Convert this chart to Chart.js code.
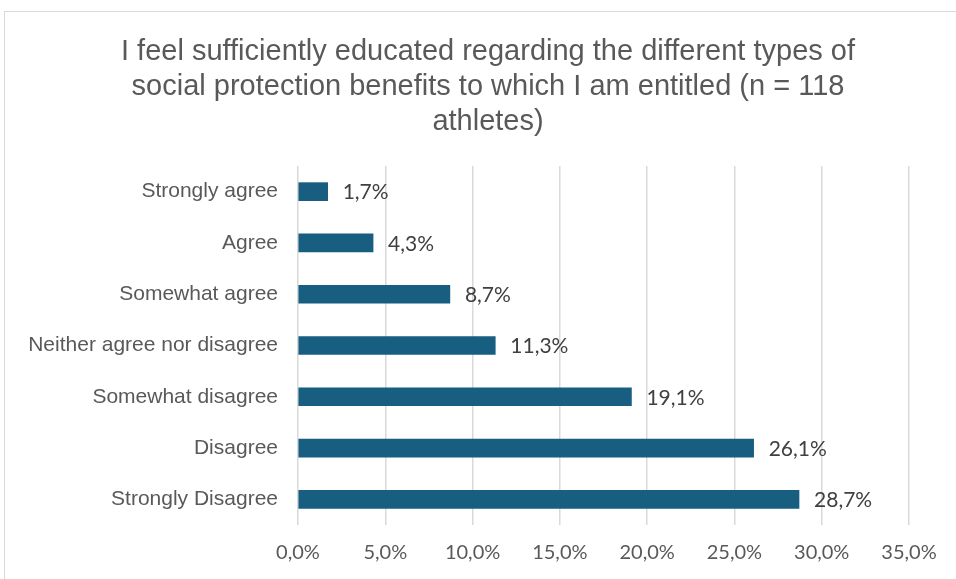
<!DOCTYPE html>
<html>
<head>
<meta charset="utf-8">
<script src="https://cdn.jsdelivr.net/npm/chart.js@4"></script>
<style>
  html, body { margin: 0; padding: 0; background: #fff; overflow: hidden; }
  #frame { position: absolute; left: 4px; top: 11px; width: 1000px; height: 640px; border: 1px solid #d9d9d9; }
  #chart { position: absolute; left: 0; top: 0; }
</style>
</head>
<body>
<div id="frame"></div>
<canvas id="chart" width="976" height="579"></canvas>
<script>
// datos del gráfico
const categories = ["Strongly agree", "Agree", "Somewhat agree", "Neither agree nor disagree", "Somewhat disagree", "Disagree", "Strongly Disagree"];
const percents = [1.7, 4.3, 8.7, 11.3, 19.1, 26.1, 28.7];
const xTicks = [0, 5, 10, 15, 20, 25, 30, 35];
const titleLines = ["I feel sufficiently educated regarding the different types of", "social protection benefits to which I am entitled (n = 118", "athletes)"];

function fmt(v){
  return v.toFixed(1).replace(".", ",") + "%";
}

// etiquetas de valor al final de cada barra
const valueLabels = {
  id: "valueLabels",
  afterDatasetsDraw(chart){
    const ctx = chart.ctx;
    const meta = chart.getDatasetMeta(0);
    ctx.save();
    ctx.font = "21px Lato, 'Open Sans', sans-serif";
    ctx.fillStyle = "#404040";
    ctx.textAlign = "left";
    ctx.textBaseline = "middle";
    meta.data.forEach((bar, i) => {
      ctx.fillText(fmt(percents[i]), bar.x + 15, bar.y + 1);
    });
    ctx.restore();
  }
};

new Chart(document.getElementById("chart").getContext("2d"), {
  type: "bar",
  data: {
    labels: categories,
    datasets: [{
      data: percents,
      backgroundColor: "#185e80",
      barThickness: 18
    }]
  },
  options: {
    indexAxis: "y",
    responsive: false,
    animation: false,
    layout: { padding: 0 },
    plugins: {
      legend: { display: false },
      tooltip: { enabled: false },
      title: {
        display: true,
        text: titleLines,
        color: "#595959",
        font: { family: "'Liberation Sans', Arial, sans-serif", size: 29, weight: "normal", lineHeight: "35px" },
        padding: { top: 34, bottom: 27 }
      }
    },
    scales: {
      x: {
        min: 0,
        max: 35,
        afterBuildTicks(scale){ scale.ticks = xTicks.map(v => ({ value: v })); },
        afterFit(scale){ scale.height = 54; },
        grid: { color: "#d9d9d9", lineWidth: 1.5, drawTicks: false },
        border: { display: false },
        ticks: {
          padding: 16,
          color: "#595959",
          font: { family: "Lato, 'Open Sans', sans-serif", size: 20 },
          callback: v => fmt(v)
        }
      },
      y: {
        afterFit(scale){ scale.width = 298; },
        grid: { display: false, drawTicks: false },
        border: { display: false },
        ticks: {
          padding: 20,
          color: "#595959",
          font: { family: "'Liberation Sans', Arial, sans-serif", size: 21 }
        }
      },
      // eje vacío a la derecha para centrar el título como en el original
      y2: {
        type: "category",
        position: "right",
        afterFit(scale){ scale.width = 67; },
        grid: { display: false, drawTicks: false },
        border: { display: false },
        ticks: { display: false }
      }
    }
  },
  plugins: [valueLabels]
});
</script>
</body>
</html>
